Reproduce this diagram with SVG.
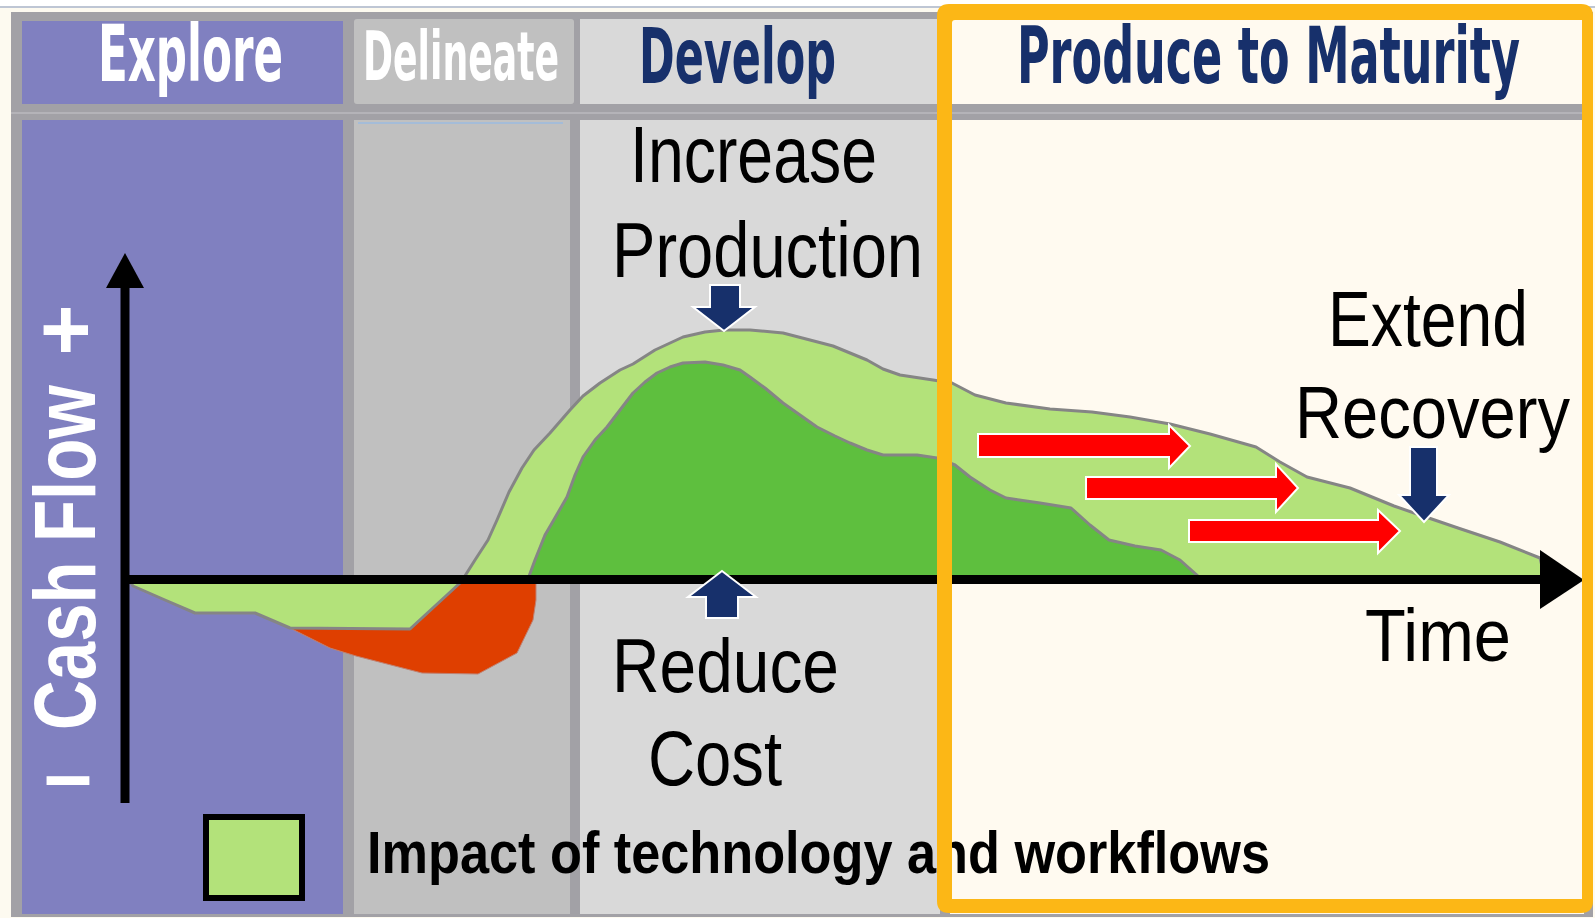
<svg xmlns="http://www.w3.org/2000/svg" width="1595" height="918" viewBox="0 0 1595 918">
  <style>
    .hdr { font-family: "Liberation Sans Narrow", "DejaVu Sans Condensed", "Liberation Sans", sans-serif; font-weight: bold; }
    .lbl { font-family: "Liberation Sans", Arial, sans-serif; fill: #000000; }
    .frame { fill: #a2a1a6; }
    .purple { fill: #8080c0; }
    .grey { fill: #c0c0c0; }
    .light { fill: #d9d9d9; }
    .cream { fill: #fffaf0; }
    .curve { stroke: #858585; stroke-width: 3; stroke-linejoin: round; }
    .navy { fill: #17306b; stroke: #ffffff; stroke-width: 2; stroke-linejoin: miter; }
    .red { fill: #ff0000; stroke: #ffffff; stroke-width: 2; stroke-linejoin: miter; }
    .axis { stroke: #000000; stroke-width: 9; fill: none; }
  </style>

  <!-- page and outer grey frame -->
  <g id="background">
    <rect x="0" y="0" width="1595" height="918" fill="#ffffff"/>
    <rect x="0" y="8" width="1595" height="910" fill="#fdfaf0"/>
    <line x1="0" y1="7" x2="1595" y2="7" stroke="#a9b3c6" stroke-width="1.5"/>
    <rect class="frame" x="11" y="12" width="1582" height="905"/>
    <!-- band between the phase headers and the chart body -->
    <rect x="11" y="104" width="1582" height="16" fill="#a2a1a6"/>
    <rect x="11" y="112" width="1582" height="2" fill="#b4b3b8"/>
  </g>

  <!-- phase columns -->
  <g id="explore">
    <rect class="purple" x="22" y="21" width="321" height="83"/>
    <rect class="purple" x="22" y="120" width="321" height="794"/>
    <text class="hdr" x="98" y="81" font-size="78" fill="#ffffff" textLength="185" lengthAdjust="spacingAndGlyphs">Explore</text>
  </g>

  <g id="delineate">
    <rect class="grey" x="354" y="19" width="220" height="85" rx="3"/>
    <rect class="grey" x="354" y="120" width="216" height="794"/>
    <line x1="358" y1="123" x2="563" y2="123" stroke="#a4bcd8" stroke-width="2"/>
    <text class="hdr" x="363" y="80" font-size="67" fill="#ffffff" textLength="196" lengthAdjust="spacingAndGlyphs">Delineate</text>
  </g>

  <g id="develop">
    <rect class="light" x="580" y="19" width="360" height="85"/>
    <rect class="light" x="580" y="120" width="360" height="794"/>
    <text class="hdr" x="639" y="83" font-size="77" fill="#17306b" textLength="197" lengthAdjust="spacingAndGlyphs">Develop</text>
  </g>

  <g id="produce">
    <rect class="cream" x="950" y="19" width="634" height="85"/>
    <rect class="cream" x="950" y="120" width="634" height="794"/>
    <text class="hdr" x="1017" y="83" font-size="78" fill="#17306b" textLength="503" lengthAdjust="spacingAndGlyphs">Produce to Maturity</text>
  </g>

  <!-- cash flow areas -->
  <g id="cash-flow">
    <!-- early negative cash (investment) -->
    <path fill="#df3f00" stroke="#c08070" stroke-width="1" d="M288,627 L410,629 L460,581 L536,581 L536,600 L533,620 L517,653 L478,674 L422,673 L356,656 L330,648 Z"/>
    <!-- technology impact below the axis -->
    <path class="curve" fill="#b3e27a" d="M128,579 L133,586 L165,600 L195,613 L255,613 L290,628 L410,629 L460,583 L463,579 Z"/>
    <!-- technology impact above the axis -->
    <path class="curve" fill="#b3e27a" d="M463,579 L475,560 L488,540 L497,520 L509,492 L522,468 L534,450 L550,433 L570,410 L583,396 L600,383 L620,370 L633,364 L655,350 L683,337 L705,332 L724,330 L750,330 L783,333 L810,340 L833,346 L867,360 L883,369 L900,375 L933,380 L952,383 L975,395 L1006,403 L1050,409 L1092,412 L1130,417 L1170,424 L1210,434 L1256,447 L1280,462 L1307,477 L1350,488 L1394,506 L1420,515 L1458,528 L1500,542 L1540,558 L1545,579 Z"/>
    <!-- base production profile -->
    <path class="curve" fill="#5ebf3e" d="M528,579 L535,560 L545,535 L552,523 L567,497 L575,475 L583,457 L595,440 L607,427 L620,410 L633,393 L645,382 L657,373 L670,367 L683,363 L705,362 L723,365 L740,370 L750,377 L765,388 L783,403 L800,415 L817,427 L835,436 L850,443 L867,450 L883,455 L900,455 L917,455 L937,458 L955,465 L970,477 L990,490 L1006,498 L1040,503 L1071,508 L1090,525 L1109,540 L1135,546 L1161,550 L1180,560 L1198,576 L1200,579 Z"/>
  </g>

  <!-- axes and pointers -->
  <g id="connectors">
    <line class="axis" x1="125" y1="280" x2="125" y2="803"/>
    <polygon points="125,253 144,288 106,288" fill="#000000"/>
    <line class="axis" x1="121" y1="579.5" x2="1545" y2="579.5"/>
    <polygon points="1584,580 1540,550 1540,609" fill="#000000"/>

    <polygon class="navy" points="710,285 740,285 740,307 755,307 724,331 693,307 710,307"/>
    <polygon class="navy" points="722,571 756,597 738,597 738,618 706,618 706,597 688,597"/>
    <polygon class="navy" points="1410,447 1437,447 1437,495 1449,495 1424,522 1399,495 1410,495"/>

    <polygon class="red" points="978,434 1169,434 1169,425 1190,446 1169,468 1169,457 978,457"/>
    <polygon class="red" points="1086,477 1276,477 1276,464 1298,488 1276,512 1276,499 1086,499"/>
    <polygon class="red" points="1189,520 1378,520 1378,510 1400,531 1378,553 1378,542 1189,542"/>
  </g>

  <!-- vertical axis label -->
  <g id="cash-flow-label" font-family="Liberation Sans, Arial, sans-serif" font-weight="bold" fill="#ffffff">
    <text transform="translate(95,730) rotate(-90)" font-size="88" textLength="345" lengthAdjust="spacingAndGlyphs">Cash Flow</text>
    <text transform="translate(95,330) rotate(-90)" font-size="88" text-anchor="middle">+</text>
    <text x="44" y="804" font-size="88" textLength="48" lengthAdjust="spacingAndGlyphs">–</text>
  </g>

  <!-- chart labels -->
  <g id="increase-production">
    <text class="lbl" x="630" y="182" font-size="80" textLength="247" lengthAdjust="spacingAndGlyphs">Increase</text>
    <text class="lbl" x="612" y="277" font-size="77" textLength="311" lengthAdjust="spacingAndGlyphs">Production</text>
  </g>
  <g id="reduce-cost">
    <text class="lbl" x="612" y="692" font-size="76" textLength="227" lengthAdjust="spacingAndGlyphs">Reduce</text>
    <text class="lbl" x="648" y="785" font-size="77" textLength="134" lengthAdjust="spacingAndGlyphs">Cost</text>
  </g>
  <g id="extend-recovery">
    <text class="lbl" x="1328" y="346" font-size="77" textLength="200" lengthAdjust="spacingAndGlyphs">Extend</text>
    <text class="lbl" x="1295" y="438" font-size="75" textLength="275" lengthAdjust="spacingAndGlyphs">Recovery</text>
  </g>
  <g id="time-label">
    <text class="lbl" x="1365" y="661" font-size="75" textLength="146" lengthAdjust="spacingAndGlyphs">Time</text>
  </g>

  <!-- legend -->
  <g id="legend">
    <rect x="206" y="817" width="96" height="81" fill="#b3e27a" stroke="#000000" stroke-width="6"/>
    <text class="lbl" x="367" y="873" font-size="60" font-weight="bold" textLength="903" lengthAdjust="spacingAndGlyphs">Impact of technology and workflows</text>
  </g>

  <!-- highlight frame around the final phase -->
  <g id="produce-frame">
    <path fill="#fcb716" fill-rule="evenodd" d="M949,4 H1581 Q1593,4 1593,16 V901 Q1593,913 1581,913 H949 Q937,913 937,901 V16 Q937,4 949,4 Z M955,20 H1582 V899 H952 V23 Q952,20 955,20 Z"/>
  </g>
</svg>
